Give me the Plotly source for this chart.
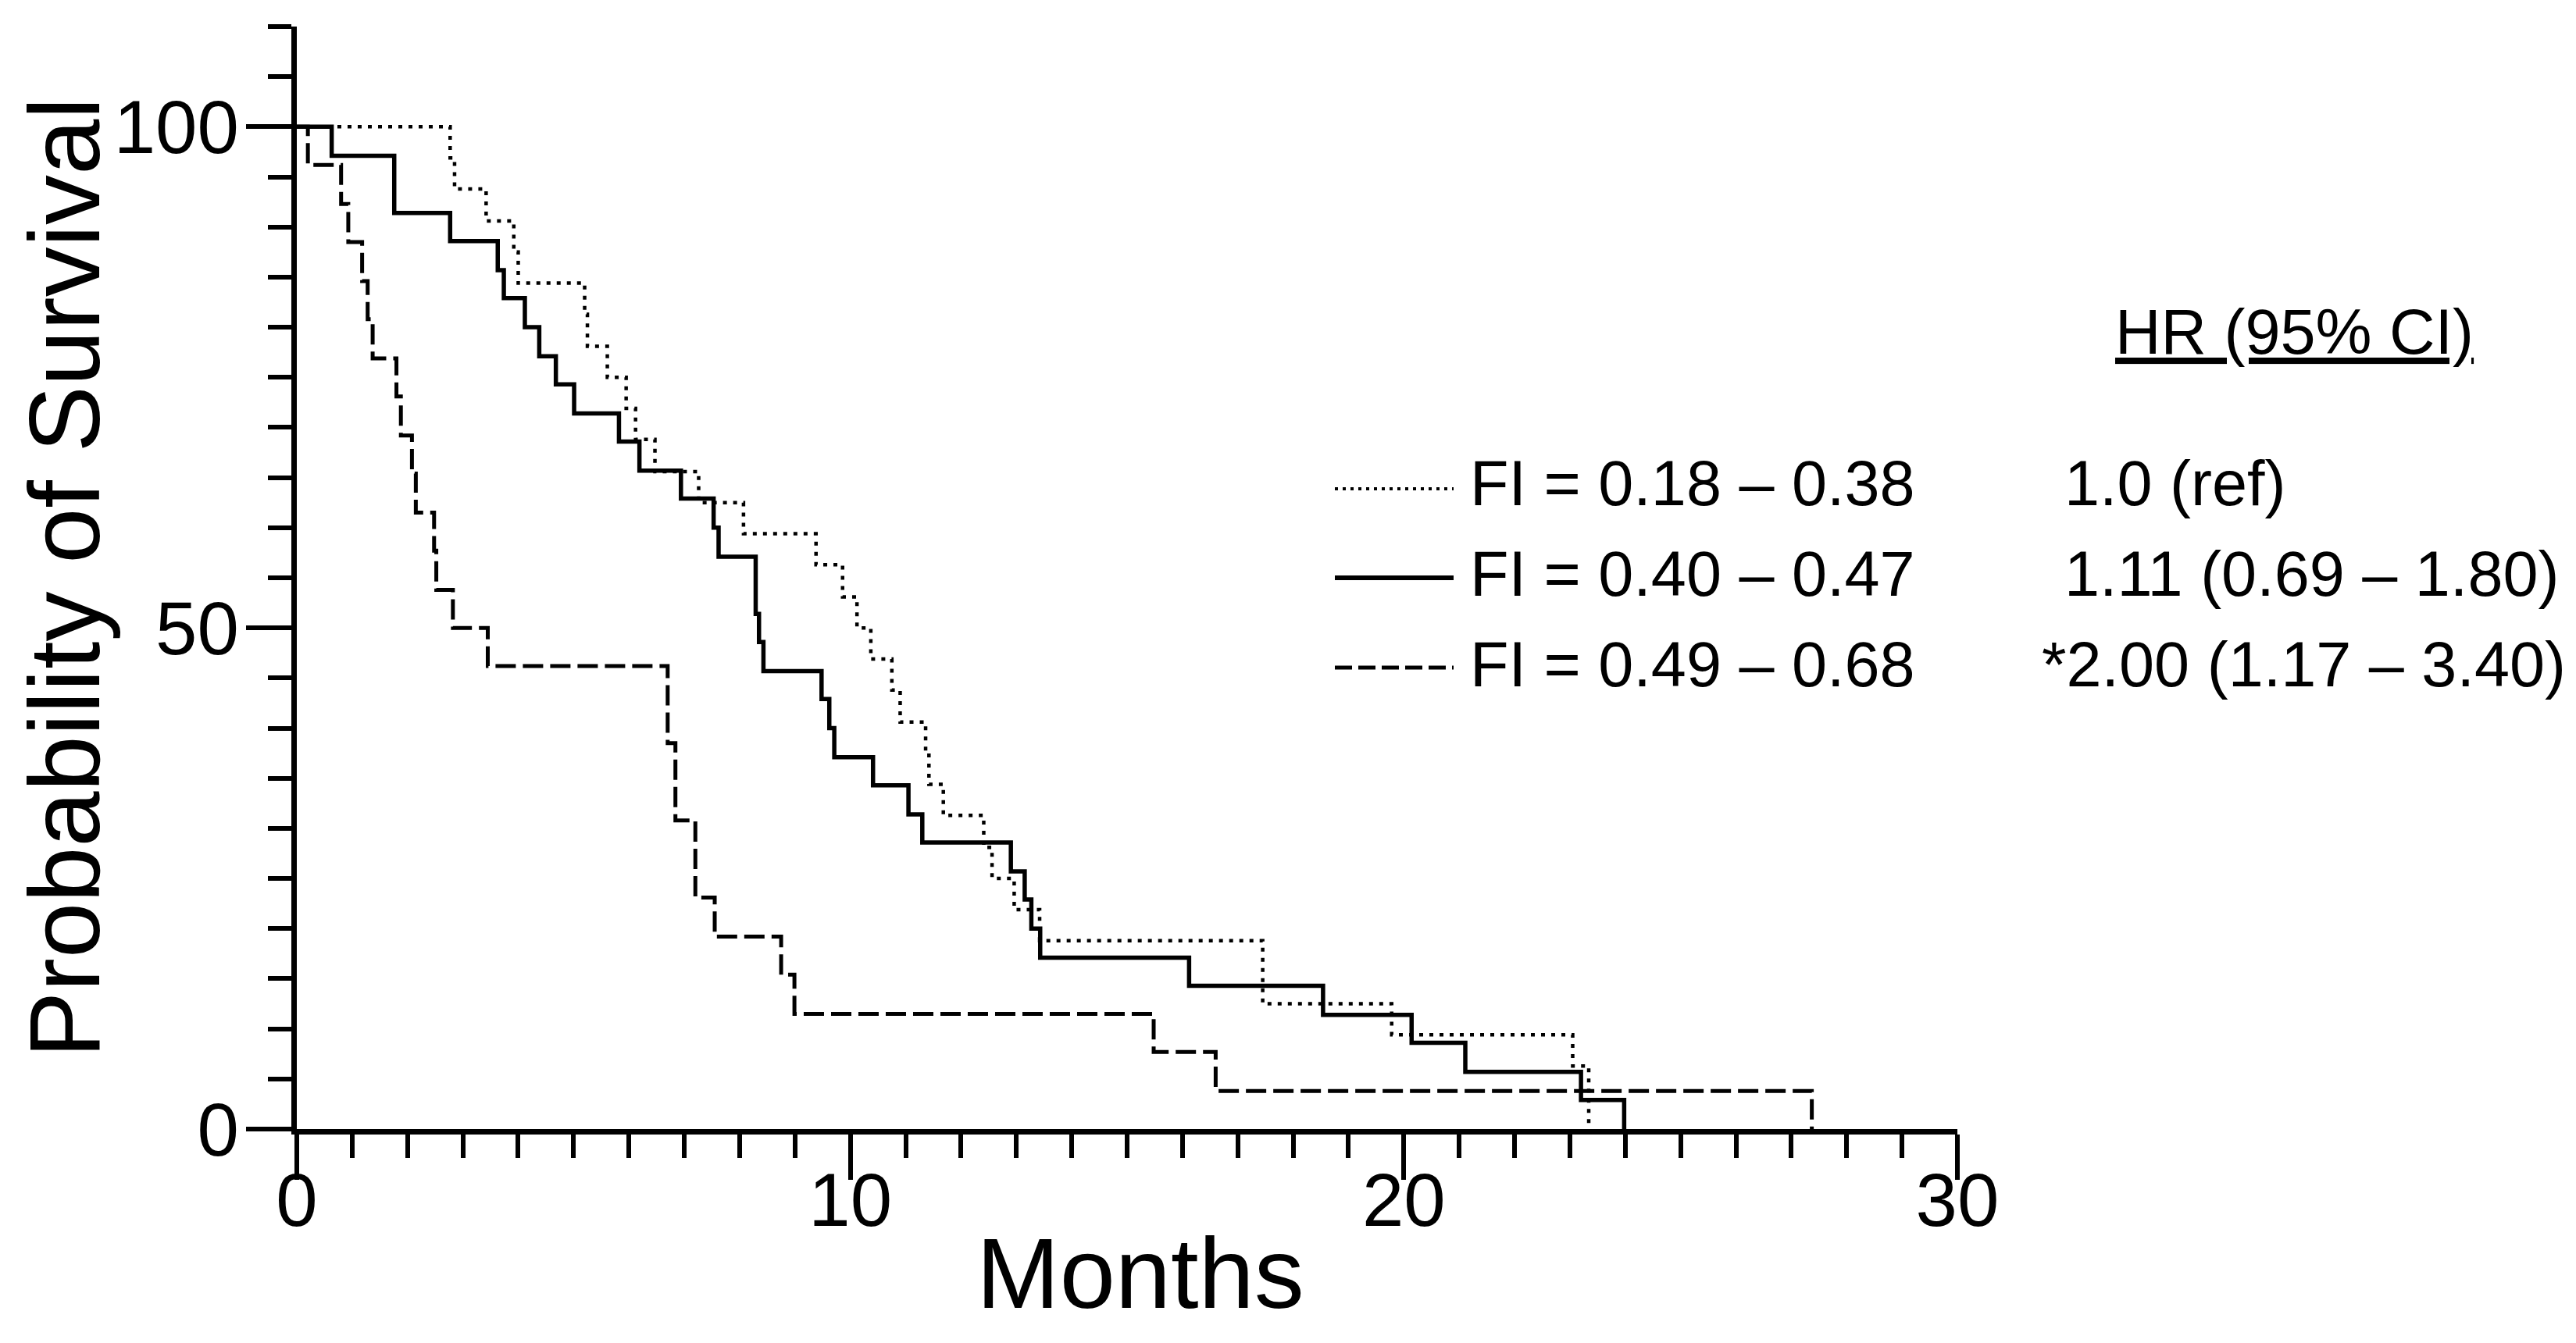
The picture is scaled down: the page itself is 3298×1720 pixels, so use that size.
import plotly.graph_objects as go

# ---- data (Kaplan-Meier steps, % surviving) ----
grp1_label = "FI = 0.18 – 0.38"
grp1_t = [0, 2.77, 2.85, 3.42, 3.92, 4.00, 5.20, 5.25, 5.61, 5.95, 6.12, 6.47, 7.26, 8.07,
          9.38, 9.86, 10.12, 10.37, 10.75, 10.90, 11.36, 11.42, 11.68, 12.41, 12.56, 12.96,
          13.42, 17.45, 19.78, 23.05, 23.34]
grp1_s = [100, 96.9, 93.8, 90.6, 87.5, 84.4, 81.3, 78.1, 75.0, 71.9, 68.8, 65.6, 62.5, 59.4,
          56.3, 53.1, 50.0, 46.9, 43.8, 40.6, 37.5, 34.4, 31.3, 28.1, 25.0, 21.9,
          18.8, 12.5, 9.4, 6.3, 0]

grp2_label = "FI = 0.40 – 0.47"
grp2_t = [0, 0.63, 1.76, 2.77, 3.63, 3.74, 4.12, 4.38, 4.68, 5.01, 5.82, 6.19, 6.94, 7.53,
          7.62, 8.29, 8.35, 8.43, 9.48, 9.62, 9.71, 10.41, 11.05, 11.30, 12.90, 13.15, 13.27,
          13.43, 16.12, 18.54, 20.14, 21.11, 23.20, 23.98]
grp2_s = [100, 97.1, 91.4, 88.6, 85.7, 82.9, 80.0, 77.1, 74.3, 71.4, 68.6, 65.7, 62.9, 60.0,
          57.1, 51.4, 48.6, 45.7, 42.9, 40.0, 37.1, 34.3, 31.4, 28.6, 25.7, 22.9, 20.0,
          17.1, 14.3, 11.4, 8.6, 5.7, 2.9, 0]

grp3_label = "FI = 0.49 – 0.68"
grp3_t = [0, 0.20, 0.80, 0.93, 1.18, 1.28, 1.37, 1.80, 1.88, 2.08, 2.15, 2.48, 2.52, 2.82,
          3.45, 6.70, 6.84, 7.20, 7.55, 8.75, 8.99, 15.48, 16.60, 27.37]
grp3_s = [100, 96.2, 92.3, 88.5, 84.6, 80.8, 76.9, 73.1, 69.2, 65.4, 61.5, 57.7, 53.8, 50.0,
          46.2, 38.5, 30.8, 23.1, 19.2, 15.4, 11.5, 7.7, 3.8, 0]

hr_header = "HR (95% CI)"
hr_values = ["1.0 (ref)", "1.11 (0.69 – 1.80)", "*2.00 (1.17 – 3.40)"]

x_ticks = [0, 10, 20, 30]
y_ticks = [0, 50, 100]

# ---- layout geometry (pixels) ----
W, H = 3298, 1720
ML, MR, MT, MB = 380, 792, 34, 274
PW, PH = W - ML - MR, H - MT - MB
FONT = "Liberation Sans, Arial, Helvetica, sans-serif"


def px(X):
    return (X - ML) / PW


def py(Y):
    return (H - MB - Y) / PH


styles = [
    dict(color="black", width=4.5, dash="5px,8px"),
    dict(color="black", width=5.5),
    dict(color="black", width=5, dash="26px,9px"),
]
sample_styles = [
    dict(color="black", width=4, dash="4px,6px"),
    dict(color="black", width=6),
    dict(color="black", width=5, dash="22px,8px"),
]

fig = go.Figure()
for t, s, name, st in [(grp1_t, grp1_s, grp1_label, styles[0]),
                       (grp2_t, grp2_s, grp2_label, styles[1]),
                       (grp3_t, grp3_s, grp3_label, styles[2])]:
    fig.add_trace(go.Scatter(x=t, y=s, mode="lines", line_shape="hv", line=st,
                             name=name, showlegend=False, cliponaxis=False))

annotations = []
shapes = []
row_text_y = [619, 735, 851]
row_line_y = [626, 740, 855]
labels = [grp1_label, grp2_label, grp3_label]
for i in range(3):
    shapes.append(dict(type="line", xref="paper", yref="paper",
                       x0=px(1709), x1=px(1861), y0=py(row_line_y[i]), y1=py(row_line_y[i]),
                       line=sample_styles[i]))
    annotations.append(dict(text=labels[i], xref="paper", yref="paper",
                            x=px(1880), y=py(row_text_y[i]), xanchor="left", yanchor="middle",
                            showarrow=False, font=dict(family=FONT, size=81, color="black")))
    hx = 2612 if hr_values[i].startswith("*") else 2641
    annotations.append(dict(text=hr_values[i], xref="paper", yref="paper",
                            x=px(hx), y=py(row_text_y[i]), xanchor="left", yanchor="middle",
                            showarrow=False, font=dict(family=FONT, size=81, color="black")))

annotations.append(dict(text="<u>" + hr_header + "</u>", xref="paper", yref="paper",
                        x=px(2706), y=py(425), xanchor="left", yanchor="middle",
                        showarrow=False, font=dict(family=FONT, size=81, color="black")))

# axis titles
annotations.append(dict(text="Months", xref="paper", yref="paper",
                        x=px(1460), y=py(1630), xanchor="center", yanchor="middle",
                        showarrow=False, font=dict(family=FONT, size=128, color="black")))
annotations.append(dict(text="Probability of Survival", xref="paper", yref="paper",
                        x=px(82), y=py(740), xanchor="center", yanchor="middle",
                        textangle=-90, showarrow=False,
                        font=dict(family=FONT, size=128, color="black")))

fig.update_layout(
    width=W, height=H,
    margin=dict(l=ML, r=MR, t=MT, b=MB, pad=0),
    paper_bgcolor="white", plot_bgcolor="white",
    font=dict(family=FONT, color="black"),
    annotations=annotations, shapes=shapes,
    showlegend=False,
)
fig.update_xaxes(range=[0, 30], tickvals=x_ticks, ticktext=[str(v) for v in x_ticks],
                 showline=True, linecolor="black", linewidth=7,
                 ticks="outside", ticklen=58, tickwidth=6, tickcolor="black",
                 minor=dict(dtick=1, tick0=0, ticks="outside", ticklen=30, tickwidth=6,
                            tickcolor="black", showgrid=False),
                 showgrid=False, zeroline=False, ticklabelstandoff=-56,
                 tickfont=dict(family=FONT, size=96, color="black"))
fig.update_yaxes(range=[0, 110], tickvals=y_ticks, ticktext=[str(v) for v in y_ticks],
                 showline=True, linecolor="black", linewidth=7,
                 ticks="outside", ticklen=58, tickwidth=6, tickcolor="black",
                 minor=dict(dtick=5, tick0=0, ticks="outside", ticklen=30, tickwidth=6,
                            tickcolor="black", showgrid=False),
                 showgrid=False, zeroline=False, ticklabelstandoff=-10,
                 tickfont=dict(family=FONT, size=96, color="black"))

fig.write_html("out.html", post_script="document.body.style.margin='0';",
               config={"displayModeBar": False})
